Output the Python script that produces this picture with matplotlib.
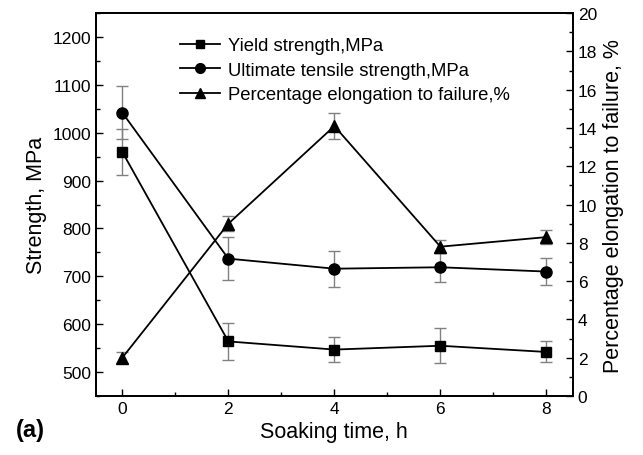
import matplotlib
matplotlib.use("Agg")
import matplotlib.pyplot as plt
from matplotlib.ticker import MultipleLocator
from matplotlib.lines import Line2D

plt.rcParams['font.family'] = ['Liberation Sans', 'DejaVu Sans']

# data
hours = [0, 2, 4, 6, 8]
yield_mpa = [960, 564, 547, 555, 542]
yield_err = [48, 38, 27, 37, 22]
uts_mpa = [1042, 737, 716, 719, 710]
uts_err = [56, 45, 38, 30, 28]
elong_pct = [2.0, 9.0, 14.1, 7.8, 8.3]
elong_err = [0.3, 0.4, 0.7, 0.35, 0.38]

fig = plt.figure(figsize=(6.43, 4.56), dpi=100)
ax = fig.add_axes([0.149, 0.1294, 0.742, 0.8396])
ax2 = ax.twinx()

ebar = dict(ecolor='#808080', elinewidth=1.0, capsize=4, capthick=1.0)
ax.errorbar(hours, yield_mpa, yerr=yield_err, color='black', lw=1.3,
            marker='s', ms=7, **ebar)
ax.errorbar(hours, uts_mpa, yerr=uts_err, color='black', lw=1.3,
            marker='o', ms=8, **ebar)
ax2.errorbar(hours, elong_pct, yerr=elong_err, color='black', lw=1.3,
             marker='^', ms=8, **ebar)

ax.set_xlim(-0.5, 8.5)
ax.set_ylim(450, 1250)
ax2.set_ylim(0, 20)

ax.xaxis.set_major_locator(MultipleLocator(2))
ax.xaxis.set_minor_locator(MultipleLocator(1))
ax.yaxis.set_major_locator(MultipleLocator(100))
ax.yaxis.set_minor_locator(MultipleLocator(50))
ax2.yaxis.set_major_locator(MultipleLocator(2))
ax2.yaxis.set_minor_locator(MultipleLocator(1))

for a in (ax, ax2):
    a.tick_params(which='major', direction='in', length=5, width=1.0, labelsize=12.5)
    a.tick_params(which='minor', direction='in', length=3, width=1.0)
    for s in a.spines.values():
        s.set_linewidth(1.3)
ax.tick_params(which='both', top=False, right=False)
ax.set_yticks([500, 600, 700, 800, 900, 1000, 1100, 1200])

ax.set_xlabel('Soaking time, h', fontsize=15.5, labelpad=4)
ax.set_ylabel('Strength, MPa', fontsize=15.5)
ax2.set_ylabel('Percentage elongation to failure, %', fontsize=15.5)

handles = [
    Line2D([], [], color='black', lw=1.3, marker='s', ms=6),
    Line2D([], [], color='black', lw=1.3, marker='o', ms=7),
    Line2D([], [], color='black', lw=1.3, marker='^', ms=7),
]
labels = ['Yield strength,MPa', 'Ultimate tensile strength,MPa',
          'Percentage elongation to failure,%']
ax.legend(handles, labels, loc='upper left', bbox_to_anchor=(0.176, 0.937),
          frameon=False, fontsize=13.3, handlelength=2.16, labelspacing=0.4,
          handletextpad=0.43, borderpad=0, borderaxespad=0)

fig.text(0.048, 0.057, '(a)', fontsize=17, fontweight='bold',
         ha='center', va='center')

fig.savefig('out.png', dpi=100)
